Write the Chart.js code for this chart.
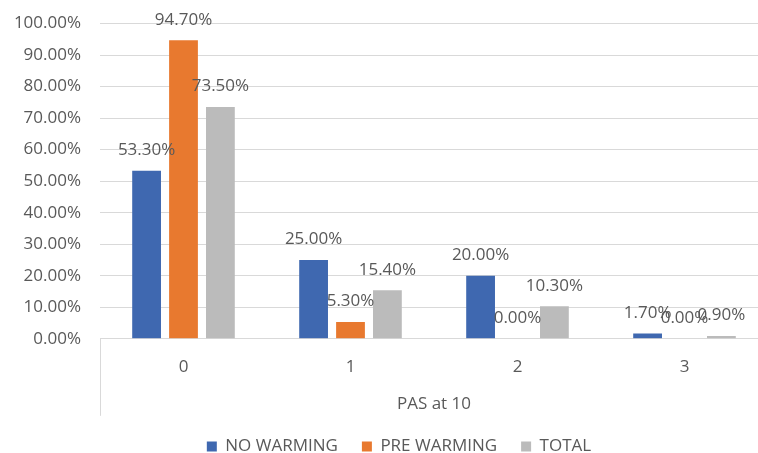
<!DOCTYPE html>
<html>
<head>
<meta charset="utf-8">
<script src="https://cdn.jsdelivr.net/npm/chart.js@4/dist/chart.umd.min.js"></script>
<style>
  html, body { margin: 0; padding: 0; overflow: hidden; background: #ffffff; }
  canvas { display: block; }
</style>
</head>
<body>
<canvas id="chart" width="778" height="465"></canvas>
<script>
// PAS at 10 distribution by group (percent of patients)
const categories = ['0', '1', '2', '3'];
const noWarming  = [53.3, 25.0, 20.0, 1.7];
const preWarming = [94.7, 5.3, 0.0, 0.0];
const total      = [73.5, 15.4, 10.3, 0.9];
const seriesNames = ['NO WARMING', 'PRE WARMING', 'TOTAL'];
const yMin = 0, yMax = 100, yStep = 10;

const FONT_FAMILY = '"Open Sans", "Liberation Sans", sans-serif';
const FONT_SIZE = 17;
const TEXT = '#595959';
const GRID = '#d9d9d9';

// Percent labels above each bar
const valueLabels = {
  id: 'valueLabels',
  afterDatasetsDraw(chart) {
    const ctx = chart.ctx;
    ctx.save();
    ctx.font = FONT_SIZE + 'px ' + FONT_FAMILY;
    ctx.fillStyle = TEXT;
    ctx.textAlign = 'center';
    ctx.textBaseline = 'middle';
    chart.data.datasets.forEach((ds, i) => {
      chart.getDatasetMeta(i).data.forEach((bar, j) => {
        ctx.fillText(ds.data[j].toFixed(2) + '%', bar.x, bar.y - 20.5);
      });
    });
    ctx.restore();
  }
};

// Left edge line of the category axis area
const axisFrame = {
  id: 'axisFrame',
  afterDraw(chart) {
    const { ctx, chartArea } = chart;
    const x = Math.round(chartArea.left) + 0.5;
    ctx.save();
    ctx.strokeStyle = GRID;
    ctx.lineWidth = 1;
    ctx.beginPath();
    ctx.moveTo(x, chartArea.bottom);
    ctx.lineTo(x, chartArea.bottom + 77);
    ctx.stroke();
    ctx.restore();
  }
};

// Centre the legend under the category axis span
const legendOffset = {
  id: 'legendOffset',
  afterLayout(chart) {
    if (chart.legend) chart.legend.left = 30;
  }
};

new Chart(document.getElementById('chart'), {
  type: 'bar',
  data: {
    labels: categories,
    datasets: [
      { label: seriesNames[0], data: noWarming,  backgroundColor: '#3f68b0', borderWidth: 0 },
      { label: seriesNames[1], data: preWarming, backgroundColor: '#e8792f', borderWidth: 0 },
      { label: seriesNames[2], data: total,      backgroundColor: '#bbbbbb', borderWidth: 0 }
    ]
  },
  options: {
    responsive: false,
    animation: false,
    devicePixelRatio: 1,
    categoryPercentage: 0.663,
    barPercentage: 0.78,
    layout: { padding: { left: 0, right: 10, top: 23.5, bottom: 0 } },
    font: { family: FONT_FAMILY, size: FONT_SIZE },
    plugins: {
      tooltip: { enabled: false },
      legend: {
        position: 'bottom',
        labels: {
          boxWidth: 10,
          boxHeight: 10,
          padding: 24,
          color: TEXT,
          font: { family: FONT_FAMILY, size: FONT_SIZE }
        }
      }
    },
    scales: {
      x: {
        afterFit(scale) { scale.height = 75.2; },
        grid: { display: false, drawTicks: false },
        border: { display: false },
        ticks: { color: TEXT, padding: 18, font: { family: FONT_FAMILY, size: FONT_SIZE } },
        title: {
          display: true,
          text: 'PAS at 10',
          color: TEXT,
          font: { family: FONT_FAMILY, size: FONT_SIZE },
          padding: { top: 16, bottom: 0 }
        }
      },
      y: {
        min: yMin,
        max: yMax,
        afterFit(scale) {
          scale.width = 100;
          scale.paddingTop = 0;
          scale.paddingBottom = 0;
        },
        grid: { color: GRID, lineWidth: 1, drawTicks: false },
        border: { display: false },
        ticks: {
          stepSize: yStep,
          padding: 19,
          color: TEXT,
          font: { family: FONT_FAMILY, size: FONT_SIZE },
          callback: (v) => Number(v).toFixed(2) + '%'
        }
      }
    }
  },
  plugins: [valueLabels, axisFrame, legendOffset]
});
</script>
</body>
</html>
